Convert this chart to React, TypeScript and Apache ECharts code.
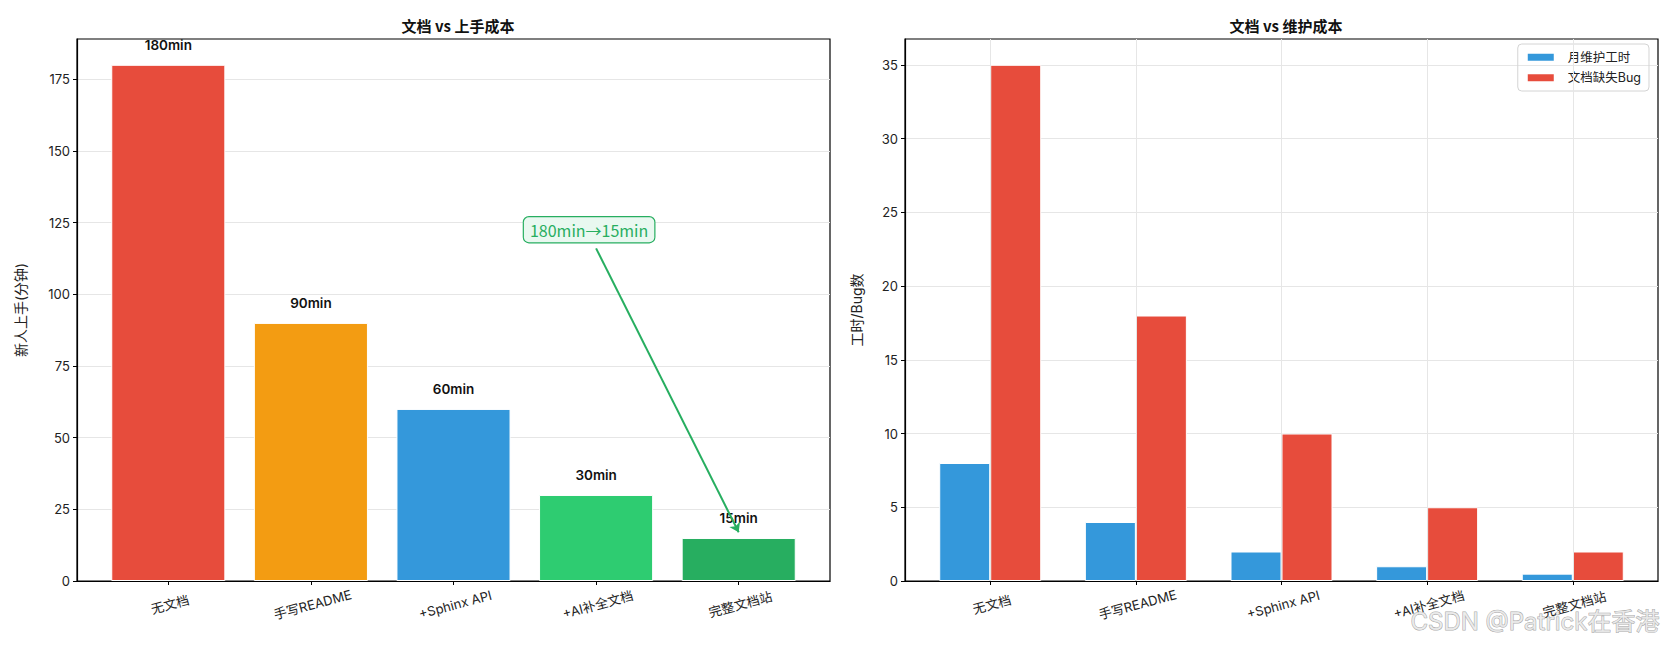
import * as echarts from 'echarts';
import { useEffect, useRef } from 'react';

const FONT = 'Inter, "Noto Sans CJK SC", sans-serif';
const CJK = '"Noto Sans CJK SC", Inter, sans-serif';

// 左图：新人上手时间
const categories = ['无文档', '手写README', '+Sphinx API', '+AI补全文档', '完整文档站'];
const onboardMinutes = [180, 90, 60, 30, 15];
const onboardColors = ['#e74c3c', '#f39c12', '#3498db', '#2ecc71', '#27ae60'];
const onboardTicks = [0, 25, 50, 75, 100, 125, 150, 175];

// 右图：维护成本
const maintainHours = [8, 4, 2, 1, 0.5];
const missingDocBugs = [35, 18, 10, 5, 2];
const costTicks = [0, 5, 10, 15, 20, 25, 30, 35];

const hiddenValueX = (gridIndex: number) => ({
  type: 'value',
  gridIndex,
  min: 0,
  max: 1,
  z: 10,
  axisLine: { show: true, lineStyle: { color: '#000', width: 1.2 } },
  axisTick: { show: false },
  axisLabel: { show: false },
  splitLine: { show: false },
});

const categoryX = (gridIndex: number) => ({
  type: 'category',
  gridIndex,
  data: categories,
  axisLine: { show: false },
  axisTick: { show: true, alignWithLabel: true, length: 4, lineStyle: { color: '#000' } },
  axisLabel: {
    rotate: 15,
    align: 'center',
    verticalAlign: 'top',
    margin: 17,
    fontSize: 13,
    color: '#222',
    interval: 0,
  },
  splitLine: { show: false },
});

const App = () => {
  const chartRef = useRef<HTMLDivElement>(null);

  useEffect(() => {
    if (!chartRef.current) return;
    const chart = echarts.init(chartRef.current, undefined, { renderer: 'svg' });

    const option = {
      animation: false,
      backgroundColor: '#fff',
      textStyle: { fontFamily: FONT },
      title: [
        {
          text: '文档 vs 上手成本',
          left: 453,
          top: 13,
          textAlign: 'center',
          textStyle: { fontSize: 15, fontWeight: 'bold', color: '#111', fontFamily: CJK },
        },
        {
          text: '文档 vs 维护成本',
          left: 1281,
          top: 13,
          textAlign: 'center',
          textStyle: { fontSize: 15, fontWeight: 'bold', color: '#111', fontFamily: CJK },
        },
      ],
      legend: {
        data: ['月维护工时', '文档缺失Bug'],
        orient: 'vertical',
        right: 19,
        top: 44,
        icon: 'rect',
        itemWidth: 28,
        itemHeight: 9,
        itemGap: 8,
        padding: [7, 8, 7, 8],
        borderColor: '#d4d4d4',
        borderWidth: 1,
        borderRadius: 4,
        textStyle: { fontSize: 12.5, color: '#222', padding: [0, 0, 0, 8] },
      },
      grid: [
        { left: 77, top: 39, width: 753, height: 542, show: true, borderColor: '#000', borderWidth: 1.2, backgroundColor: 'transparent', outerBoundsMode: 'none' },
        { left: 97, top: 39, width: 713, height: 542, outerBoundsMode: 'none' },
        { left: 905, top: 39, width: 753, height: 542, show: true, borderColor: '#000', borderWidth: 1.2, backgroundColor: 'transparent', outerBoundsMode: 'none' },
        { left: 917.4, top: 39, width: 728.2, height: 542, outerBoundsMode: 'none' },
      ],
      xAxis: [hiddenValueX(0), categoryX(1), hiddenValueX(2), categoryX(3)],
      yAxis: [
        {
          type: 'value',
          gridIndex: 0,
          min: 0,
          max: 189,
          name: '新人上手(分钟)',
          nameLocation: 'middle',
          nameGap: 50,
          nameTextStyle: { fontSize: 14, color: '#222' },
          axisLine: { show: true, lineStyle: { color: '#000', width: 1.2 } },
          axisTick: { show: true, length: 4, lineStyle: { color: '#000' }, customValues: onboardTicks },
          axisLabel: { fontSize: 13, color: '#222', margin: 7, customValues: onboardTicks },
          splitLine: { show: true, lineStyle: { color: '#e6e6e6' } },
        },
        { type: 'value', gridIndex: 1, min: 0, max: 189, show: false },
        {
          type: 'value',
          gridIndex: 2,
          min: 0,
          max: 36.75,
          name: '工时/Bug数',
          nameLocation: 'middle',
          nameGap: 42,
          nameTextStyle: { fontSize: 14, color: '#222' },
          axisLine: { show: true, lineStyle: { color: '#000', width: 1.2 } },
          axisTick: { show: true, length: 4, lineStyle: { color: '#000' }, customValues: costTicks },
          axisLabel: { fontSize: 13, color: '#222', margin: 7, customValues: costTicks },
          splitLine: { show: true, lineStyle: { color: '#e6e6e6' } },
        },
        { type: 'value', gridIndex: 3, min: 0, max: 36.75, show: false },
      ],
      series: [
        {
          type: 'bar',
          xAxisIndex: 1,
          yAxisIndex: 1,
          barWidth: '80%',
          z: 3,
          data: onboardMinutes.map((v, i) => ({ value: v, itemStyle: { color: onboardColors[i] } })),
          itemStyle: { borderColor: '#fff', borderWidth: 1 },
          label: {
            show: true,
            position: 'top',
            distance: 13,
            formatter: '{c}min',
            fontSize: 13.5,
            fontWeight: 600,
            color: '#111',
          },
          markLine: {
            silent: true,
            symbol: ['none', 'arrow'],
            symbolSize: 9,
            lineStyle: { color: '#27ae60', width: 2, type: 'solid' },
            label: { show: false },
            data: [[{ coord: [3, 116] }, { coord: [4, 17] }]],
          },
          markPoint: {
            silent: true,
            symbol: 'rect',
            symbolSize: 0,
            data: [{ coord: [3, 122.5] }],
            label: {
              show: true,
              position: 'inside',
              offset: [-7, 0],
              formatter: '180min→15min',
              fontFamily: CJK,
              fontSize: 16,
              fontWeight: 'normal',
              color: '#27ae60',
              backgroundColor: '#e9f8f0',
              borderColor: '#27ae60',
              borderWidth: 1.2,
              borderRadius: 5,
              padding: [5, 6, 4, 6],
            },
          },
        },
        {
          type: 'line',
          xAxisIndex: 3,
          yAxisIndex: 3,
          data: [],
          z: 1,
          markLine: {
            silent: true,
            symbol: ['none', 'none'],
            label: { show: false },
            lineStyle: { color: '#e6e6e6', width: 1, type: 'solid' },
            data: categories.map((_, i) => ({ xAxis: i })),
          },
        },
        {
          name: '月维护工时',
          type: 'bar',
          xAxisIndex: 3,
          yAxisIndex: 3,
          barWidth: 51,
          barGap: '0%',
          z: 3,
          data: maintainHours,
          itemStyle: { color: '#3498db', borderColor: '#fff', borderWidth: 1 },
        },
        {
          name: '文档缺失Bug',
          type: 'bar',
          xAxisIndex: 3,
          yAxisIndex: 3,
          barWidth: 51,
          barGap: '0%',
          z: 3,
          data: missingDocBugs,
          itemStyle: { color: '#e74c3c', borderColor: '#fff', borderWidth: 1 },
        },
      ],
      graphic: [
        {
          type: 'text',
          right: 8,
          bottom: 14,
          z: 100,
          style: {
            text: 'CSDN @Patrick在香港',
            fontSize: 24,
            fontFamily: FONT,
            fill: 'rgba(235,235,235,0.85)',
            stroke: 'rgba(130,130,130,0.7)',
            lineWidth: 1,
          },
        },
      ],
    };

    chart.setOption(option as any);

    return () => {
      chart.dispose();
    };
  }, []);

  return (
    <div
      ref={chartRef}
      style={{ position: 'fixed', left: 0, top: 0, width: 1668, height: 648 }}
    />
  );
};

export default App;
